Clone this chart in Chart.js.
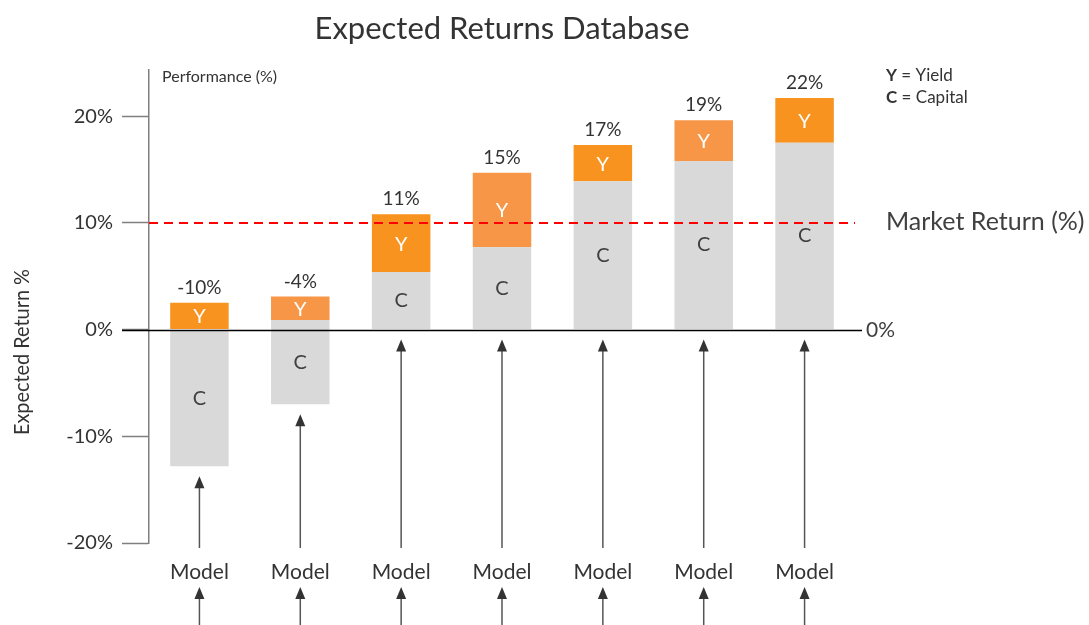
<!DOCTYPE html>
<html>
<head>
<meta charset="utf-8">
<title>Expected Returns Database</title>
<script src="https://cdn.jsdelivr.net/npm/chart.js@4.4.0/dist/chart.umd.min.js"></script>
<style>
  html, body { margin: 0; padding: 0; background: #fff; }
</style>
</head>
<body>
<canvas id="myChart" width="1089" height="625"></canvas>
<script>
'use strict';

//////////////////////
// data
//////////////////////

const categories = ['Model', 'Model', 'Model', 'Model', 'Model', 'Model', 'Model'];
const capitalStart = [-12.8, -7.0, 0, 0, 0, 0, 0];
const capitalEnd = [0, 0.9, 5.4, 7.7, 13.9, 15.8, 17.5];
const yieldEnd = [2.5, 3.1, 10.8, 14.7, 17.3, 19.6, 21.7];
const totalLabels = ['-10%', '-4%', '11%', '15%', '17%', '19%', '22%'];
const yTicks = [-20, -10, 0, 10, 20];
const marketReturn = 10;

const yieldColors = ['#F7931E', '#F79646', '#F7931E', '#F79646', '#F7931E', '#F79646', '#F7931E'];
const FONT = 'Lato, "Open Sans", sans-serif';

//////////////////////
// helpers
//////////////////////

function drawArrow(ctx, x, yBottom, yTip) {
  ctx.save();
  ctx.strokeStyle = '#555';
  ctx.lineWidth = 1.5;
  ctx.beginPath();
  ctx.moveTo(x, yBottom);
  ctx.lineTo(x, yTip + 8);
  ctx.stroke();
  ctx.fillStyle = '#333';
  ctx.beginPath();
  ctx.moveTo(x, yTip);
  ctx.lineTo(x - 5, yTip + 12);
  ctx.lineTo(x + 5, yTip + 12);
  ctx.closePath();
  ctx.fill();
  ctx.restore();
}

// everything that is not a bar: labels, lines, arrows
const extras = {
  id: 'extras',
  afterDatasetsDraw(chart) {
    const ctx = chart.ctx;
    const area = chart.chartArea;
    const y = chart.scales.y;
    const zeroY = Math.round(y.getPixelForValue(0)) + 0.5;
    const mktY = Math.round(y.getPixelForValue(marketReturn));

    // zero line
    ctx.save();
    ctx.strokeStyle = '#000';
    ctx.lineWidth = 1.5;
    ctx.beginPath();
    ctx.moveTo(area.left - 27, zeroY);
    ctx.lineTo(area.right + 7, zeroY);
    ctx.stroke();

    // market return line
    ctx.strokeStyle = '#FF0000';
    ctx.lineWidth = 2;
    ctx.setLineDash([9, 6]);
    ctx.beginPath();
    ctx.moveTo(area.left, mktY);
    ctx.lineTo(area.right, mktY);
    ctx.stroke();
    ctx.setLineDash([]);

    // segment letters and totals
    const capMeta = chart.getDatasetMeta(0);
    const yldMeta = chart.getDatasetMeta(1);
    ctx.textAlign = 'center';
    ctx.textBaseline = 'middle';
    for (let i = 0; i < categories.length; i++) {
      const c = capMeta.data[i];
      const yl = yldMeta.data[i];
      ctx.font = '20px ' + FONT;
      ctx.fillStyle = '#404040';
      ctx.fillText('C', c.x, (c.y + c.base) / 2);
      ctx.fillStyle = '#fff';
      ctx.fillText('Y', yl.x, (yl.y + yl.base) / 2 + 1);
      ctx.font = '19px ' + FONT;
      ctx.fillStyle = '#333';
      ctx.fillText(totalLabels[i], yl.x, Math.min(yl.y, yl.base) - 15);
    }

    // axis title, a little below the middle as in the source
    ctx.save();
    ctx.translate(22, 352);
    ctx.rotate(-Math.PI / 2);
    ctx.font = '22px ' + FONT;
    ctx.fillStyle = '#333';
    ctx.fillText('Expected Return %', 0, 0, 166);
    ctx.restore();

    // side texts
    ctx.textAlign = 'left';
    ctx.font = '16px ' + FONT;
    ctx.fillStyle = '#333';
    ctx.fillText('Performance (%)', area.left + 13, area.top + 7);

    const lx = area.right + 31;
    ctx.font = 'bold 17px ' + FONT;
    ctx.fillText('Y', lx, 76);
    ctx.fillText('C', lx, 98);
    const wy = ctx.measureText('Y').width;
    const wc = ctx.measureText('C').width;
    ctx.font = '17px ' + FONT;
    ctx.fillText(' = Yield', lx + wy, 76);
    ctx.fillText(' = Capital', lx + wc, 98);

    ctx.font = '25px ' + FONT;
    ctx.fillStyle = '#404040';
    ctx.fillText('Market Return (%)', lx, mktY - 1);
    ctx.font = '21px ' + FONT;
    ctx.fillText('0%', area.right + 11, zeroY);

    // arrows under bars and under labels
    for (let i = 0; i < categories.length; i++) {
      const c = capMeta.data[i];
      const tip = y.getPixelForValue(Math.min(capitalStart[i], 0)) + 10;
      drawArrow(ctx, c.x, 548, tip);
      drawArrow(ctx, c.x, 630, 587);
    }
    ctx.restore();
  }
};

//////////////////////
// chart
//////////////////////

const data = {
  labels: categories,
  datasets: [{
    label: 'Capital',
    data: capitalStart.map((s, i) => [s, capitalEnd[i]]),
    backgroundColor: '#D9D9D9',
    barPercentage: 1,
    categoryPercentage: 0.58
  },
  {
    label: 'Yield',
    data: capitalEnd.map((s, i) => [s, yieldEnd[i]]),
    backgroundColor: yieldColors,
    barPercentage: 1,
    categoryPercentage: 0.58
  }]
};

const config = {
  type: 'bar',
  data: data,
  options: {
    responsive: false,
    animation: false,
    layout: { padding: { left: 0, right: 234, top: 0, bottom: 0 } },
    plugins: {
      legend: { display: false },
      tooltip: { enabled: false },
      title: {
        display: true,
        text: 'Expected Returns Database',
        fullSize: false,
        color: '#333',
        font: { family: FONT, size: 31, weight: 'normal' },
        padding: { top: 10, bottom: 23 }
      }
    },
    scales: {
      x: {
        stacked: true,
        grid: { display: false },
        border: { display: false },
        ticks: { color: '#333', font: { family: FONT, size: 21 }, padding: 9 },
        afterFit(scale) { scale.height = 82; }
      },
      y: {
        min: -20,
        max: 24.3,
        afterBuildTicks(axis) { axis.ticks = yTicks.map(v => ({ value: v })); },
        ticks: {
          color: '#333',
          font: { family: FONT, size: 20 },
          padding: 9,
          callback: v => v + '%'
        },
        grid: {
          drawOnChartArea: false,
          drawTicks: true,
          tickLength: 27,
          tickColor: '#7f7f7f',
          tickWidth: 1.5
        },
        border: { display: true, color: '#7f7f7f', width: 1.5 },
        afterFit(scale) { scale.width = 149; }
      }
    }
  },
  plugins: [extras]
};

const canvasChart = document.getElementById('myChart');
const myChart = new Chart(canvasChart, config);
</script>
</body>
</html>
